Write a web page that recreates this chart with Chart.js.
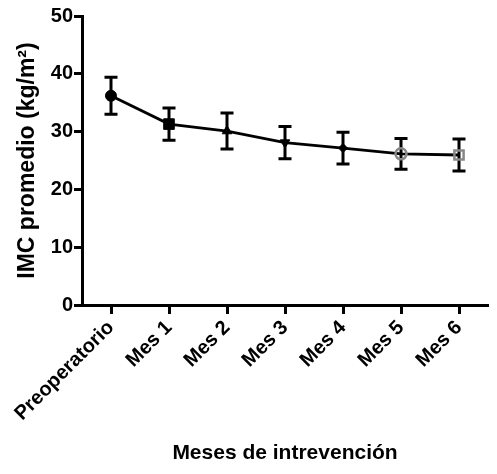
<!DOCTYPE html>
<html>
<head>
<meta charset="utf-8">
<script src="https://cdn.jsdelivr.net/npm/chart.js@4/dist/chart.umd.min.js"></script>
<style>
  html, body { margin: 0; padding: 0; background: #fff; }
  #wrap { width: 497px; height: 474px; }
</style>
</head>
<body>
<div id="wrap"><canvas id="imcChart" width="497" height="474"></canvas></div>
<script>
// ===== Data =====
const meses = ['Preoperatorio', 'Mes 1', 'Mes 2', 'Mes 3', 'Mes 4', 'Mes 5', 'Mes 6'];
const imcMedia = [36.2, 31.3, 30.1, 28.1, 27.15, 26.15, 25.95];
const imcDE = [3.2, 2.8, 3.1, 2.8, 2.75, 2.65, 2.75];
const yTicks = [0, 10, 20, 30, 40, 50];

const FONT = '"Liberation Sans", Arial, sans-serif';

// error bars (mean ± SD), drawn with the chart's own scales
const errorBars = {
  id: 'errorBars',
  beforeDatasetsDraw(chart) {
    const { ctx, scales: { x, y } } = chart;
    ctx.save();
    ctx.strokeStyle = '#000';
    ctx.lineWidth = 3;
    ctx.lineCap = 'butt';
    imcMedia.forEach((m, i) => {
      const px = x.getPixelForValue(i);
      const top = y.getPixelForValue(m + imcDE[i]);
      const bot = y.getPixelForValue(m - imcDE[i]);
      ctx.beginPath();
      ctx.moveTo(px, top); ctx.lineTo(px, bot);
      ctx.moveTo(px - 6.5, top); ctx.lineTo(px + 6.5, top);
      ctx.moveTo(px - 6.5, bot); ctx.lineTo(px + 6.5, bot);
      ctx.stroke();
    });
    ctx.restore();
  }
};

new Chart(document.getElementById('imcChart'), {
  type: 'line',
  data: {
    labels: meses,
    datasets: [{
      data: imcMedia,
      borderColor: '#000',
      borderWidth: 2.8,
      tension: 0,
      pointStyle: ['circle', 'rect', 'triangle', 'triangle', 'rectRot', 'circle', 'rect'],
      pointRotation: [0, 0, 0, 180, 0, 0, 0],
      pointRadius: [5.5, 7.5, 5.5, 5.5, 4.5, 5.5, 6.5],
      pointBackgroundColor: ['#000', '#000', '#000', '#000', '#000', 'rgba(0,0,0,0)', 'rgba(0,0,0,0)'],
      pointBorderColor: ['#000', '#000', '#000', '#000', '#000', '#888', '#888'],
      pointBorderWidth: [1, 1, 1, 1, 1, 2.5, 2.5],
    }]
  },
  options: {
    responsive: false,
    animation: false,
    layout: { padding: { top: 16, left: 14, right: 0, bottom: 6 } },
    plugins: { legend: { display: false }, tooltip: { enabled: false } },
    scales: {
      x: {
        offset: true,
        afterFit(scale) { scale.height = 474 - 305 - 6; },
        grid: { drawOnChartArea: false, drawTicks: true, tickLength: 9, tickWidth: 3, tickColor: '#000', offset: false },
        border: { display: true, width: 3, color: '#000' },
        ticks: {
          color: '#000', minRotation: 45, maxRotation: 45, padding: 2,
          font: { family: FONT, size: 20, weight: 'bold' }
        },
        title: {
          display: true, text: 'Meses de intrevención', color: '#000',
          font: { family: FONT, size: 21, weight: 'bold' }, padding: { top: 4, bottom: 2 }
        }
      },
      y: {
        min: 0, max: 50,
        afterFit(scale) { scale.width = 82 - 14; },
        afterBuildTicks(scale) { scale.ticks = yTicks.map(v => ({ value: v })); },
        grid: { drawOnChartArea: false, drawTicks: true, tickLength: 8, tickWidth: 3, tickColor: '#000' },
        border: { display: true, width: 3, color: '#000' },
        ticks: {
          color: '#000', padding: 1,
          font: { family: FONT, size: 20, weight: 'bold' }
        },
        title: {
          display: true, text: 'IMC promedio (kg/m²)', color: '#000',
          font: { family: FONT, size: 23, weight: 'bold' }, padding: { top: 0, bottom: 3 }
        }
      }
    }
  },
  plugins: [errorBars]
});
</script>
</body>
</html>
